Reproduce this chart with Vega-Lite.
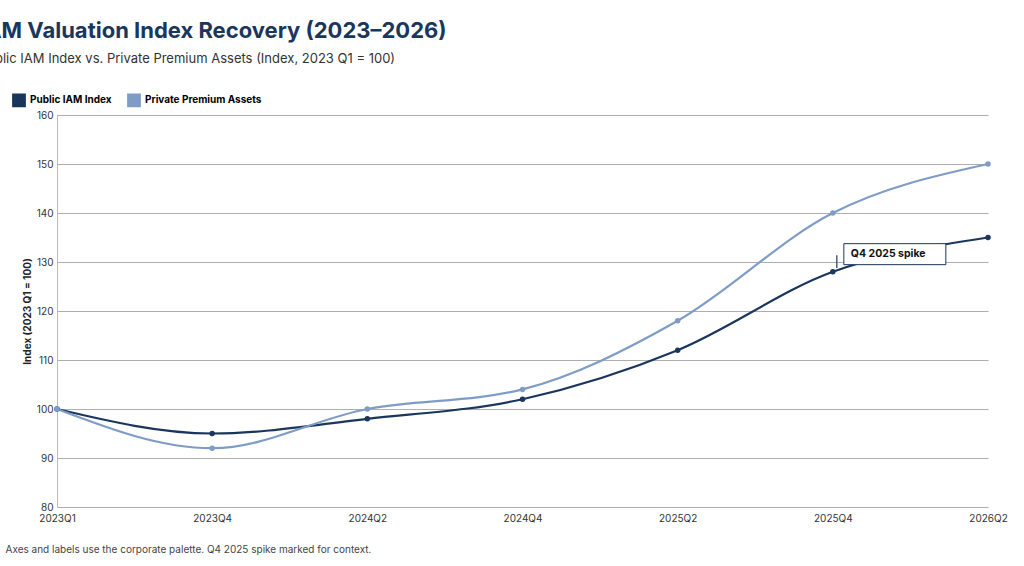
{
  "$schema": "https://vega.github.io/schema/vega-lite/v6.json",
  "width": 931,
  "height": 392,
  "autosize": "none",
  "padding": {"left": 57, "top": 115, "right": 36, "bottom": 59},
  "background": "white",
  "title": {
    "text": "IAM Valuation Index Recovery (2023–2026)",
    "subtitle": "Public IAM Index vs. Private Premium Assets (Index, 2023 Q1 = 100)",
    "anchor": "start",
    "dx": -26,
    "offset": 26,
    "font": "Inter",
    "fontSize": 22,
    "fontWeight": "bold",
    "color": "#1b365d",
    "subtitleFont": "Inter",
    "subtitleFontSize": 13,
    "subtitleColor": "#333333",
    "subtitlePadding": 10
  },
  "config": {
    "font": "Inter",
    "view": {"stroke": null},
    "axis": {"labelFontSize": 10, "labelColor": "#333333", "titleColor": "#222222", "domainColor": "#bbbbbb", "tickColor": "#bbbbbb"}
  },
  "datasets": {
    "series": [
      {"quarter": "2023Q1", "series": "Public IAM Index", "index": 100},
      {"quarter": "2023Q4", "series": "Public IAM Index", "index": 95},
      {"quarter": "2024Q2", "series": "Public IAM Index", "index": 98},
      {"quarter": "2024Q4", "series": "Public IAM Index", "index": 102},
      {"quarter": "2025Q2", "series": "Public IAM Index", "index": 112},
      {"quarter": "2025Q4", "series": "Public IAM Index", "index": 128},
      {"quarter": "2026Q2", "series": "Public IAM Index", "index": 135},
      {"quarter": "2023Q1", "series": "Private Premium Assets", "index": 100},
      {"quarter": "2023Q4", "series": "Private Premium Assets", "index": 92},
      {"quarter": "2024Q2", "series": "Private Premium Assets", "index": 100},
      {"quarter": "2024Q4", "series": "Private Premium Assets", "index": 104},
      {"quarter": "2025Q2", "series": "Private Premium Assets", "index": 118},
      {"quarter": "2025Q4", "series": "Private Premium Assets", "index": 140},
      {"quarter": "2026Q2", "series": "Private Premium Assets", "index": 150}
    ],
    "note": [
      {"quarter": "2025Q4", "top": 131.4, "bottom": 128.8, "box": 131.6, "label": "Q4 2025 spike"}
    ]
  },
  "layer": [
    {
      "data": {"name": "series"},
      "mark": {"type": "line", "interpolate": "monotone", "strokeWidth": 2.2},
      "encoding": {
        "x": {
          "field": "quarter", "type": "ordinal", "sort": null,
          "scale": {"type": "point", "padding": 0},
          "title": "Axes and labels use the corporate palette. Q4 2025 spike marked for context.",
          "axis": {"labelAngle": 0, "grid": false, "domain": false, "ticks": false, "labelPadding": 6,
            "titleAnchor": "start", "titleX": -52, "titleY": 37, "titleFontWeight": "normal", "titleFontSize": 10, "titleColor": "#444444"}
        },
        "y": {
          "field": "index", "type": "quantitative",
          "scale": {"domain": [80, 160]},
          "title": "Index (2023 Q1 = 100)",
          "axis": {"tickCount": 8, "grid": true, "gridColor": "#999999", "gridWidth": 0.8, "ticks": false,
            "titleFontSize": 10, "titleFontWeight": "bold", "labelPadding": 4}
        },
        "color": {
          "field": "series", "type": "nominal",
          "scale": {"domain": ["Public IAM Index", "Private Premium Assets"], "range": ["#1b365d", "#7f9cc6"]},
          "legend": {"orient": "none", "legendX": -45, "legendY": -22, "direction": "horizontal", "title": null,
            "symbolType": "square", "symbolSize": 150, "symbolOpacity": 1, "labelFontSize": 10, "labelFontWeight": "bold", "columnPadding": 12}
        }
      }
    },
    {
      "data": {"name": "series"},
      "mark": {"type": "point", "filled": true, "size": 30, "opacity": 1},
      "encoding": {
        "x": {"field": "quarter", "type": "ordinal", "sort": null},
        "y": {"field": "index", "type": "quantitative"},
        "color": {"field": "series", "type": "nominal", "legend": null}
      }
    },
    {
      "data": {"name": "note"},
      "mark": {"type": "rule", "color": "#1b365d", "strokeWidth": 1.2, "xOffset": 4},
      "encoding": {
        "x": {"field": "quarter", "type": "ordinal", "sort": null},
        "y": {"field": "bottom", "type": "quantitative"},
        "y2": {"field": "top"}
      }
    },
    {
      "data": {"name": "note"},
      "mark": {"type": "rect", "width": 102, "height": 21, "fill": "white", "stroke": "#1b365d", "strokeWidth": 1, "xOffset": 62},
      "encoding": {
        "x": {"field": "quarter", "type": "ordinal", "sort": null},
        "y": {"field": "box", "type": "quantitative"}
      }
    },
    {
      "data": {"name": "note"},
      "mark": {"type": "text", "align": "left", "baseline": "middle", "dx": 18, "fontSize": 10.5, "fontWeight": "bold", "color": "#111111"},
      "encoding": {
        "x": {"field": "quarter", "type": "ordinal", "sort": null},
        "y": {"field": "box", "type": "quantitative"},
        "text": {"field": "label"}
      }
    }
  ]
}
